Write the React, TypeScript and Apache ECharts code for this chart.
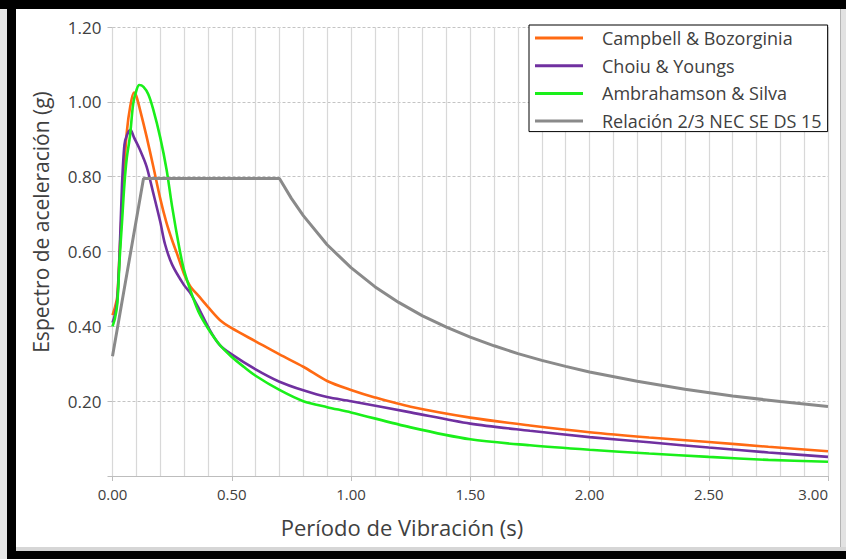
import React, { useEffect, useRef } from "react";
import * as echarts from "echarts";

const FONT = '"Open Sans", "Noto Sans", sans-serif';

const seriesNames = [
  "Campbell & Bozorginia",
  "Choiu & Youngs",
  "Ambrahamson & Silva",
  "Relación 2/3 NEC SE DS 15",
];
const seriesColors = ["#ff6a13", "#7030a0", "#1aef1a", "#8a8a8a"];

const xTicks = [0, 0.5, 1, 1.5, 2, 2.5, 3];
const yTicks = [0, 0.2, 0.4, 0.6, 0.8, 1.0, 1.2];

// [period (s), spectral acceleration (g)]
const campbell: number[][] = [
  [0, 0.43], [0.01, 0.45], [0.02, 0.48], [0.03, 0.6], [0.04, 0.72], [0.05, 0.83],
  [0.06, 0.92], [0.075, 0.99], [0.09, 1.025], [0.1, 1.015], [0.115, 0.98], [0.143, 0.907],
  [0.171, 0.827], [0.2, 0.742], [0.225, 0.68], [0.25, 0.63], [0.27, 0.595], [0.3, 0.54],
  [0.325, 0.508], [0.36, 0.482], [0.4, 0.452], [0.45, 0.417], [0.5, 0.395], [0.6, 0.36],
  [0.7, 0.325], [0.8, 0.292], [0.9, 0.254], [1.0, 0.23], [1.1, 0.21], [1.25, 0.185],
  [1.5, 0.156], [1.75, 0.135], [2.0, 0.117], [2.25, 0.103], [2.5, 0.091], [2.75, 0.078],
  [3.0, 0.066],
];

const choiu: number[][] = [
  [0, 0.41], [0.01, 0.43], [0.02, 0.47], [0.03, 0.6], [0.04, 0.78], [0.05, 0.885],
  [0.06, 0.91], [0.075, 0.925], [0.09, 0.905], [0.115, 0.872], [0.143, 0.827], [0.171, 0.756],
  [0.2, 0.68], [0.22, 0.62], [0.25, 0.565], [0.3, 0.51], [0.325, 0.49], [0.36, 0.45],
  [0.408, 0.39], [0.45, 0.35], [0.5, 0.325], [0.6, 0.285], [0.7, 0.252], [0.8, 0.229],
  [0.9, 0.211], [1.0, 0.2], [1.25, 0.17], [1.5, 0.14], [1.75, 0.121], [2.0, 0.104],
  [2.25, 0.09], [2.5, 0.076], [2.75, 0.063], [3.0, 0.051],
];

const abrahamson: number[][] = [
  [0, 0.4], [0.01, 0.42], [0.02, 0.46], [0.03, 0.58], [0.04, 0.68], [0.05, 0.78],
  [0.06, 0.85], [0.073, 0.907], [0.087, 0.996], [0.1, 1.03], [0.112, 1.045], [0.13, 1.04],
  [0.15, 1.02], [0.171, 0.979], [0.2, 0.905], [0.227, 0.818], [0.25, 0.72], [0.28, 0.61],
  [0.3, 0.55], [0.33, 0.49], [0.36, 0.44], [0.4, 0.395], [0.45, 0.35], [0.5, 0.318],
  [0.55, 0.292], [0.6, 0.268], [0.7, 0.23], [0.8, 0.2], [0.9, 0.184], [1.0, 0.17],
  [1.25, 0.13], [1.5, 0.098], [1.75, 0.082], [2.0, 0.07], [2.25, 0.06], [2.5, 0.051],
  [2.75, 0.043], [3.0, 0.038],
];

const nec: number[][] = [
  [0, 0.32], [0.13, 0.795], [0.7, 0.795], [0.75, 0.742], [0.8, 0.696], [0.9, 0.618],
  [1.0, 0.557], [1.1, 0.506], [1.2, 0.464], [1.3, 0.428], [1.4, 0.398], [1.5, 0.371],
  [1.6, 0.348], [1.7, 0.327], [1.8, 0.309], [1.9, 0.293], [2.0, 0.278], [2.2, 0.253],
  [2.4, 0.232], [2.6, 0.214], [2.8, 0.199], [3.0, 0.186],
];

const seriesData = [campbell, choiu, abrahamson, nec];

export default function App() {
  const ref = useRef<HTMLDivElement>(null);
  useEffect(() => {
    if (!ref.current) return;
    const chart = echarts.init(ref.current, undefined, { renderer: "svg" });
    const option: any = {
      animation: false,
      backgroundColor: "#ffffff",
      grid: { left: 112.5, right: 18, top: 27, bottom: 83, containLabel: false },
      xAxis: {
        type: "value",
        min: xTicks[0],
        max: xTicks[xTicks.length - 1],
        interval: 0.5,
        axisLine: { show: true, onZero: false, lineStyle: { color: "#bdbdbd", width: 1 } },
        axisTick: { show: true, length: 5, lineStyle: { color: "#bdbdbd" } },
        axisLabel: {
          formatter: (v: number) => v.toFixed(2),
          color: "#404040",
          fontSize: 15,
          fontFamily: FONT,
          margin: 10,
          alignMaxLabel: "right",
        },
        splitLine: { show: true, lineStyle: { color: "#d8d8d8", width: 1.2 } },
        minorTick: { show: false, splitNumber: 5 },
        minorSplitLine: { show: true, lineStyle: { color: "#d8d8d8", width: 1.2 } },
      },
      yAxis: {
        type: "value",
        min: yTicks[0],
        max: yTicks[yTicks.length - 1],
        interval: 0.2,
        axisLine: { show: false },
        axisTick: { show: true, length: 5, lineStyle: { color: "#bdbdbd" } },
        axisLabel: {
          formatter: (v: number) => (v === 0 ? "" : v.toFixed(2)),
          color: "#404040",
          fontSize: 17,
          fontFamily: FONT,
          margin: 11,
        },
        splitLine: { show: true, lineStyle: { color: "#c4c4c4", type: [3, 2], width: 1 } },
      },
      legend: {
        orient: "vertical",
        left: 529,
        top: 25,
        backgroundColor: "#ffffff",
        borderColor: "#000000",
        borderWidth: 1,
        borderRadius: 0,
        padding: [2.5, 6, 0, 6],
        itemWidth: 48,
        itemHeight: 3,
        itemGap: 6.7,
        icon: "rect",
        textStyle: {
          fontSize: 18,
          color: "#404040",
          fontFamily: FONT,
          lineHeight: 21,
          padding: [0, 0, 0, 14],
        },
        data: seriesNames,
      },
      series: seriesNames.map((name, i) => ({
        name,
        type: "line",
        data: seriesData[i],
        showSymbol: false,
        symbol: "none",
        smooth: i === 3 ? false : 0.3,
        lineStyle: { color: seriesColors[i], width: i === 3 ? 3 : 2.6 },
        itemStyle: { color: seriesColors[i] },
        z: 2,
      })),
      graphic: [
        {
          type: "text",
          x: 402,
          y: 527,
          style: {
            text: "Período de Vibración (s)",
            font: `22px ${FONT}`,
            fill: "#404040",
            align: "center",
            verticalAlign: "middle",
          },
        },
        {
          type: "text",
          x: 41,
          y: 222,
          rotation: Math.PI / 2,
          style: {
            text: "Espectro de aceleración (g)",
            font: `21px ${FONT}`,
            fill: "#404040",
            align: "center",
            verticalAlign: "middle",
          },
        },
        { type: "rect", shape: { x: 0, y: 0, width: 7, height: 559 }, style: { fill: "#e6e6e6" }, z: 100 },
        { type: "rect", shape: { x: 841, y: 0, width: 5, height: 559 }, style: { fill: "#e2e2e2" }, z: 100 },
        { type: "rect", shape: { x: 840, y: 9, width: 1, height: 542 }, style: { fill: "#b4b4b4" }, z: 100 },
        { type: "rect", shape: { x: 16, y: 547, width: 830, height: 4 }, style: { fill: "#d6d6d6" }, z: 100 },
        { type: "rect", shape: { x: 0, y: 0, width: 846, height: 9 }, style: { fill: "#000000" }, z: 101 },
        { type: "rect", shape: { x: 7, y: 0, width: 9, height: 559 }, style: { fill: "#000000" }, z: 101 },
        { type: "rect", shape: { x: 7, y: 551, width: 839, height: 8 }, style: { fill: "#000000" }, z: 101 },
      ],
    };
    chart.setOption(option);
    return () => chart.dispose();
  }, []);
  return (
    <div
      ref={ref}
      style={{ position: "fixed", left: 0, top: 0, width: 846, height: 559 }}
    />
  );
}
